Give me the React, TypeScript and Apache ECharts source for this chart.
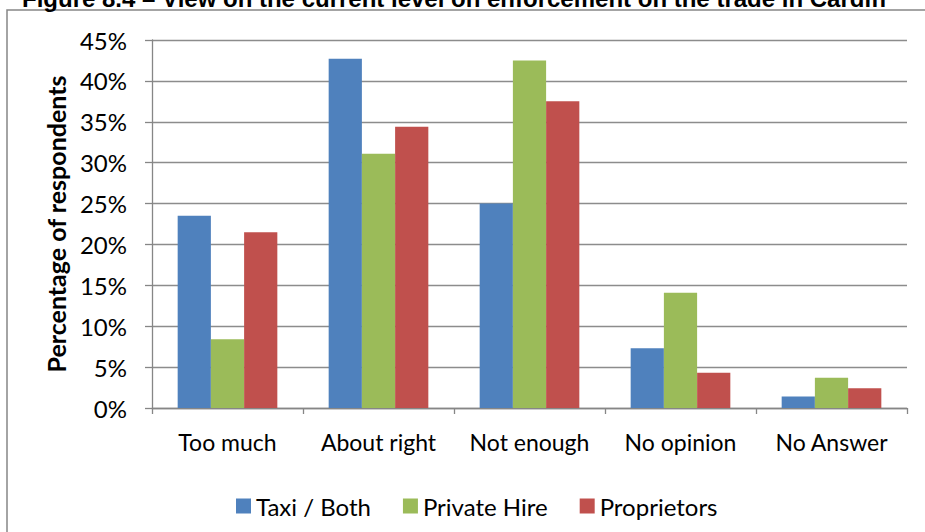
import React, { useEffect, useRef } from "react";
import * as echarts from "echarts";

const titleText = "Figure 8.4 – View on the current level on enforcement on the trade in Cardiff";
const categories = ["Too much", "About right", "Not enough", "No opinion", "No Answer"];
const seriesNames = ["Taxi / Both", "Private Hire", "Proprietors"];
const taxiBoth = [23.5, 42.7, 25.0, 7.3, 1.4];
const privateHire = [8.4, 31.1, 42.5, 14.1, 3.7];
const proprietors = [21.5, 34.4, 37.5, 4.3, 2.4];
const colors = ["#4F81BD", "#9BBB59", "#C0504D"];
const yAxisTitle = "Percentage of respondents";

const FONT = "Lato";

export default function App() {
  const ref = useRef<HTMLDivElement>(null);
  useEffect(() => {
    document.body.style.margin = "0";
    const chart = echarts.init(ref.current!, null, { renderer: "svg" });
    const values = [taxiBoth, privateHire, proprietors];
    chart.setOption({
      animation: false,
      backgroundColor: "#ffffff",
      textStyle: { fontFamily: FONT },
      graphic: [
        {
          type: "rect",
          shape: { x: 7, y: 10, width: 960, height: 560 },
          style: { fill: "none", stroke: "#868686", lineWidth: 1.5 },
          silent: true,
        },
        {
          type: "text",
          x: 22,
          y: 10,
          style: {
            text: titleText,
            fontFamily: "Liberation Sans",
            fontWeight: "bold",
            fontSize: 24,
            fill: "#000",
            verticalAlign: "bottom",
            align: "left",
          },
        },
      ],
      grid: { left: 152, right: 18, top: 40, bottom: 124, containLabel: false },
      legend: {
        left: 231,
        top: 489,
        itemWidth: 15,
        itemHeight: 15,
        itemGap: 32,
        icon: "rect",
        textStyle: { fontFamily: FONT, fontSize: 24, color: "#000", padding: [0, 0, 0, 0] },
        data: seriesNames,
      },
      xAxis: {
        type: "category",
        data: categories,
        axisLine: { lineStyle: { color: "#868686", width: 1.3 } },
        axisTick: { show: true, length: 6, lineStyle: { color: "#868686", width: 1.3 } },
        axisLabel: { color: "#000", fontSize: 23, fontFamily: FONT, margin: 22, interval: 0 },
      },
      yAxis: {
        type: "value",
        min: 0,
        max: 45,
        interval: 5,
        name: yAxisTitle,
        nameLocation: "middle",
        nameGap: 84,
        nameTextStyle: { fontFamily: FONT, fontWeight: "bold", fontSize: 25, color: "#000" },
        axisLine: { show: true, lineStyle: { color: "#868686", width: 1.3 } },
        axisTick: { show: true, length: 7, lineStyle: { color: "#868686", width: 1.3 } },
        splitLine: { lineStyle: { color: "#8c8c8c", width: 1.3 } },
        axisLabel: { color: "#000", fontSize: 24, fontFamily: FONT, margin: 25, formatter: "{value}%" },
      },
      series: values.map((v, i) => ({
        name: seriesNames[i],
        type: "bar",
        data: v,
        barGap: "0%",
        barCategoryGap: "34%",
        itemStyle: { color: colors[i] },
      })),
    });
    return () => chart.dispose();
  }, []);
  return <div ref={ref} style={{ width: 925, height: 532 }} />;
}
